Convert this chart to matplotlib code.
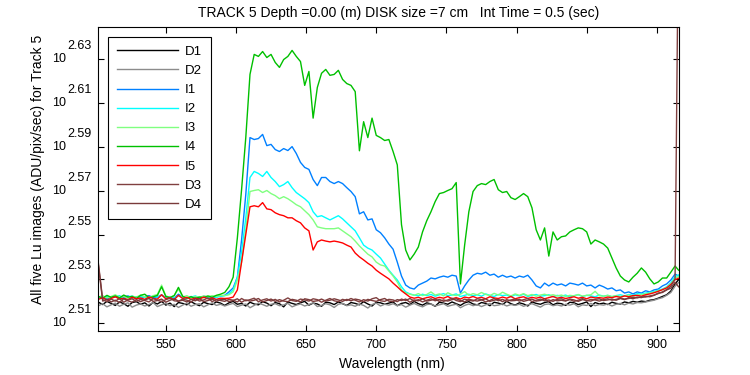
import numpy as np
import matplotlib
matplotlib.use("Agg")
import matplotlib.pyplot as plt
from matplotlib.ticker import NullLocator, FixedLocator, NullFormatter
from matplotlib.transforms import offset_copy

plt.rcParams['font.family'] = ['Liberation Sans', 'DejaVu Sans']

# wavelength grid (nm), 3 nm steps plus the last detector pixel
wl = np.append(np.arange(502, 914, 3), 915.5)

D1 = [330.6, 329.8, 330.9, 330.2, 329.5, 330.7, 330.1, 329.2, 330.5, 330.8,
      329.9, 330.4, 329.3, 330.6, 330.0, 330.9, 329.6, 330.3, 329.1, 330.5,
      330.2, 329.7, 330.8, 330.0, 329.4, 330.6, 330.1, 329.8, 330.7, 330.3,
      329.5, 330.4, 330.9, 329.9, 330.2, 329.3, 330.6, 330.0, 329.7, 330.8,
      330.3, 329.4, 330.5, 330.1, 329.0, 330.7, 330.2, 329.8, 330.4, 330.9,
      329.6, 330.3, 330.0, 329.2, 330.6, 330.4, 329.8, 330.7, 330.1, 329.5,
      330.5, 330.2, 329.7, 330.8, 330.0, 329.3, 330.6, 330.4, 329.9, 330.3,
      330.7, 329.4, 330.2, 330.5, 329.8, 330.9, 330.1, 329.6, 330.4, 330.0,
      329.2, 330.6, 330.3, 329.9, 330.7, 330.1, 329.5, 330.4, 330.8, 330.0,
      329.7, 330.5, 330.2, 329.4, 330.6, 330.3, 329.8, 330.9, 330.1, 329.6,
      330.4, 330.0, 329.3, 330.7, 330.2, 329.9, 330.5, 330.8, 329.7, 330.3,
      330.1, 329.5, 330.6, 330.4, 329.8, 330.2, 330.7, 329.1, 330.5, 330.0,
      330.3, 329.8, 330.6, 330.2, 330.0, 330.7, 330.4, 330.9, 330.6, 331.0,
      330.8, 331.3, 331.5, 332.0, 332.6, 333.2, 334.5, 337.0, 338.5]

D2 = [329.4, 330.1, 329.0, 329.7, 330.3, 329.2, 329.9, 330.4, 328.9, 329.6,
      330.0, 329.3, 329.8, 330.5, 329.1, 329.7, 330.2, 329.4, 329.9, 328.8,
      329.6, 330.3, 329.2, 329.8, 330.1, 329.0, 329.7, 330.4, 329.5, 329.9,
      329.3, 329.8, 330.2, 329.1, 329.6, 330.0, 328.7, 329.5, 330.3, 329.8,
      329.2, 329.9, 330.1, 329.4, 329.7, 330.2, 329.0, 329.6, 330.0, 329.3,
      329.8, 330.4, 329.1, 329.5, 330.1, 329.7, 328.8, 329.9, 330.2, 329.4,
      329.7, 329.2, 330.0, 329.5, 328.6, 329.8, 330.3, 329.3, 329.9, 329.6,
      330.1, 329.4, 329.8, 328.9, 329.6, 330.2, 329.5, 329.0, 329.8, 330.0,
      329.3, 329.7, 330.1, 329.2, 329.6, 329.9, 328.7, 329.5, 330.0, 329.4,
      329.8, 329.1, 329.7, 330.2, 329.4, 329.6, 330.0, 329.3, 329.8, 329.5,
      329.9, 329.2, 329.7, 330.1, 329.5, 328.9, 329.8, 330.0, 329.4, 329.7,
      329.3, 329.9, 329.6, 330.1, 329.0, 329.7, 329.5, 330.2, 329.4, 329.8,
      329.6, 330.0, 329.3, 329.9, 330.2, 329.7, 330.3, 330.0, 330.5, 330.4,
      330.7, 331.0, 331.3, 331.8, 332.2, 333.0, 334.0, 336.2, 337.5]

I1 = [332.0, 332.5, 331.8, 332.3, 332.6, 331.9, 332.4, 332.8, 332.1, 332.5,
      331.8, 332.6, 332.9, 332.2, 332.4, 333.2, 332.0, 332.5, 332.1, 333.4,
      332.3, 331.9, 332.6, 332.2, 332.0, 332.7, 332.4, 331.9, 332.5, 332.8,
      333.0, 334.2, 335.6, 339.4, 352.9, 370.1, 392.9, 392.1, 392.5, 394.2,
      389.6, 390.1, 388.0, 387.2, 388.4, 387.6, 389.2, 386.4, 382.8, 380.8,
      380.0, 376.0, 373.6, 376.8, 376.8, 375.2, 374.4, 375.2, 374.4, 372.8,
      371.3, 369.3, 362.7, 363.5, 360.4, 360.8, 356.7, 355.6, 353.7, 351.4,
      349.5, 344.8, 339.8, 336.6, 335.6, 335.2, 336.6, 337.3, 338.0, 339.1,
      338.8, 339.4, 339.8, 339.4, 340.1, 339.8, 333.8, 336.3, 338.4, 340.1,
      340.8, 340.5, 341.2, 340.1, 340.5, 339.4, 340.1, 339.4, 339.8, 339.1,
      339.8, 339.4, 340.1, 338.4, 336.3, 335.6, 337.3, 336.3, 337.3, 336.6,
      337.0, 336.3, 337.3, 337.0, 336.6, 337.3, 336.3, 336.6, 335.6, 336.6,
      336.0, 335.2, 335.6, 334.6, 334.9, 333.8, 334.2, 333.5, 334.2, 333.8,
      334.6, 334.2, 334.9, 335.2, 336.3, 337.0, 338.4, 340.5, 339.8]

I2 = [332.3, 331.9, 332.7, 332.2, 332.5, 332.9, 332.0, 332.4, 332.8, 332.1,
      332.6, 332.3, 331.9, 332.7, 332.4, 333.0, 332.2, 332.6, 332.0, 332.9,
      332.5, 332.1, 332.4, 332.8, 332.2, 332.5, 332.0, 332.6, 332.3, 332.7,
      332.9, 333.5, 334.9, 339.4, 348.5, 361.2, 376.8, 379.2, 378.4, 377.2,
      379.2, 376.8, 375.2, 373.2, 374.0, 375.2, 372.8, 370.9, 369.7, 368.5,
      367.0, 363.5, 361.6, 362.0, 361.2, 360.4, 361.2, 362.0, 360.8, 359.3,
      357.8, 356.3, 353.7, 351.0, 349.9, 349.2, 347.7, 346.3, 344.1, 341.9,
      340.1, 338.4, 336.0, 334.2, 333.5, 333.1, 332.8, 333.4, 332.9, 333.3,
      332.7, 333.2, 333.6, 332.9, 333.1, 333.5, 332.6, 333.0, 333.4, 332.8,
      333.2, 332.7, 333.5, 333.0, 332.6, 333.3, 332.9, 333.1, 332.5, 333.2,
      332.8, 333.4, 332.6, 333.0, 333.3, 332.7, 332.9, 333.2, 332.5, 333.0,
      332.7, 333.1, 332.4, 332.9, 333.2, 332.6, 333.0, 332.8, 332.5, 333.1,
      332.7, 333.0, 332.5, 332.9, 333.2, 332.8, 333.3, 333.0, 333.6, 333.4,
      333.8, 334.0, 334.3, 334.8, 335.2, 336.0, 337.4, 339.6, 340.2]

I3 = [332.4, 332.9, 332.1, 332.6, 333.2, 332.3, 332.8, 332.0, 332.7, 332.4,
      333.1, 332.5, 332.2, 332.9, 333.3, 336.6, 332.8, 332.3, 333.0, 335.2,
      332.4, 332.9, 332.1, 332.6, 332.3, 332.8, 332.5, 332.9, 332.6, 333.0,
      332.9, 333.2, 334.2, 338.4, 344.8, 356.7, 371.3, 371.7, 372.0, 370.9,
      371.7, 370.5, 369.7, 368.5, 369.3, 368.5, 367.4, 366.2, 365.4, 363.9,
      362.4, 360.4, 357.8, 357.4, 357.1, 357.1, 357.1, 357.4, 356.3, 355.2,
      354.1, 352.5, 350.7, 349.2, 347.7, 346.7, 344.8, 343.8, 343.4, 341.6,
      339.8, 337.7, 334.9, 333.8, 333.4, 333.0, 333.6, 332.9, 333.3, 334.2,
      333.1, 333.5, 332.8, 333.9, 333.2, 332.9, 333.4, 334.3, 333.0, 333.6,
      333.2, 334.0, 333.3, 332.9, 333.7, 333.1, 334.1, 333.4, 332.8, 333.5,
      333.0, 333.6, 332.9, 333.3, 332.7, 333.1, 333.4, 332.9, 333.2, 332.8,
      333.1, 332.6, 333.0, 332.8, 333.3, 332.7, 333.0, 333.2, 334.4, 332.9,
      332.7, 333.0, 332.6, 332.9, 332.5, 332.8, 333.1, 332.7, 333.0, 333.3,
      333.5, 333.8, 334.1, 334.6, 335.0, 335.8, 337.0, 339.0, 339.6]

I4 = [332.6, 332.0, 333.0, 332.3, 332.8, 332.1, 333.1, 332.4, 332.6, 331.9,
      333.0, 333.4, 332.2, 332.5, 333.0, 336.0, 332.6, 332.2, 332.9, 335.8,
      332.7, 332.0, 332.5, 331.9, 332.4, 332.2, 332.8, 332.3, 333.0, 333.4,
      334.0, 336.0, 339.4, 353.7, 372.0, 392.9, 419.8, 428.7, 427.8, 430.0,
      427.3, 428.7, 425.1, 422.9, 426.4, 427.8, 430.5, 427.8, 425.5, 415.0,
      421.1, 401.0, 414.1, 420.3, 422.0, 419.4, 419.8, 421.6, 417.6, 415.8,
      415.0, 412.3, 387.5, 399.5, 392.9, 401.0, 393.8, 392.9, 391.7, 392.1,
      387.2, 381.8, 358.6, 349.2, 345.6, 347.7, 350.3, 355.9, 360.1, 363.5,
      367.4, 370.5, 370.9, 371.7, 372.4, 374.8, 337.0, 351.0, 363.5, 371.3,
      373.6, 374.4, 374.0, 375.2, 376.0, 372.0, 370.9, 371.3, 368.9, 368.2,
      369.3, 370.5, 369.3, 365.0, 356.7, 352.9, 357.4, 347.0, 355.9, 352.9,
      354.1, 354.4, 355.9, 356.7, 357.4, 357.1, 355.9, 351.4, 352.9, 352.2,
      351.4, 349.9, 346.3, 342.7, 339.8, 338.4, 337.7, 339.4, 340.8, 342.7,
      341.2, 338.8, 337.0, 337.7, 339.1, 339.1, 341.2, 343.4, 341.9]

I5 = [331.6, 332.2, 331.4, 331.9, 332.5, 331.7, 332.0, 331.5, 332.3, 331.8,
      332.1, 331.6, 332.4, 331.9, 331.7, 333.2, 331.8, 332.2, 331.5, 333.0,
      331.9, 332.3, 331.6, 332.0, 331.7, 332.4, 331.8, 332.1, 331.6, 332.0,
      331.9, 332.0, 332.4, 334.9, 344.8, 355.2, 365.4, 365.8, 365.4, 367.0,
      364.6, 364.3, 363.1, 362.4, 362.0, 361.2, 361.2, 360.1, 359.3, 357.4,
      356.3, 349.2, 352.2, 352.9, 352.5, 352.2, 352.5, 352.2, 351.8, 351.0,
      350.3, 348.1, 346.7, 345.6, 344.4, 343.4, 341.9, 340.8, 339.8, 338.8,
      337.3, 336.0, 334.6, 333.5, 332.4, 332.0, 332.3, 331.8, 332.2, 332.5,
      331.9, 332.3, 332.0, 332.6, 331.8, 332.2, 331.7, 332.4, 332.1, 332.6,
      332.0, 332.3, 331.8, 332.5, 332.1, 331.9, 332.4, 332.0, 332.6, 331.8,
      332.2, 332.5, 331.9, 332.3, 332.0, 332.4, 331.8, 332.2, 332.6, 332.0,
      332.3, 331.9, 332.2, 332.5, 332.0, 332.3, 331.8, 332.4, 332.1, 332.2,
      332.0, 332.4, 332.2, 332.6, 332.3, 332.8, 332.5, 332.9, 333.0, 332.7,
      333.2, 333.5, 333.9, 334.4, 335.0, 335.6, 336.8, 338.5, 339.0]

D3 = [344.1, 331.5, 330.8, 331.7, 331.0, 331.9, 330.6, 331.4, 331.8, 330.9,
      331.6, 331.2, 330.7, 331.9, 331.3, 330.8, 331.5, 332.0, 331.1, 330.9,
      331.7, 331.3, 330.6, 331.8, 331.0, 331.4, 332.1, 330.8, 331.5, 331.2,
      330.9, 331.6, 331.3, 330.7, 331.9, 331.1, 331.5, 332.0, 330.8, 331.4,
      331.8, 331.0, 331.6, 330.7, 331.3, 332.1, 331.2, 330.9, 331.7, 331.4,
      331.0, 331.8, 331.5, 330.6, 331.3, 331.9, 331.1, 330.8, 331.6, 331.2,
      331.9, 331.3, 330.7, 331.5, 331.0, 331.8, 332.2, 331.1, 330.9, 331.6,
      331.4, 330.8, 331.7, 331.2, 331.9, 331.0, 331.5, 330.7, 331.3, 331.8,
      331.1, 331.6, 330.9, 331.4, 332.0, 331.2, 330.8, 331.7, 331.3, 331.0,
      331.8, 331.5, 330.7, 331.2, 331.9, 331.1, 331.6, 330.9, 331.4, 331.7,
      331.0, 331.5, 331.9, 330.8, 331.3, 331.7, 331.1, 331.4, 330.9, 331.6,
      331.8, 331.2, 331.5, 330.9, 331.3, 331.9, 331.1, 331.6, 331.4, 331.0,
      331.5, 331.8, 331.3, 331.6, 332.0, 331.7, 331.9, 332.3, 332.1, 332.5,
      332.4, 332.8, 333.1, 333.6, 334.2, 335.0, 336.2, 338.8, 500.0]

D4 = [343.5, 331.0, 331.6, 330.7, 331.3, 330.5, 331.8, 331.1, 330.6, 331.5,
      330.8, 331.4, 331.9, 330.9, 331.2, 331.7, 330.6, 331.3, 331.8, 331.0,
      331.3, 330.7, 331.6, 331.1, 331.9, 330.8, 331.2, 331.7, 330.9, 331.5,
      331.6, 330.8, 331.2, 331.8, 330.6, 331.4, 331.0, 331.3, 331.9, 330.7,
      331.2, 331.7, 330.9, 331.5, 331.0, 330.8, 331.6, 331.3, 330.7, 331.8,
      331.5, 330.9, 331.1, 331.7, 331.0, 331.3, 331.8, 331.4, 330.9, 331.6,
      331.1, 331.7, 331.4, 330.8, 331.6, 331.2, 330.9, 331.5, 331.9, 331.0,
      330.8, 331.5, 331.2, 331.7, 330.6, 331.4, 331.1, 331.8, 331.0, 331.3,
      331.7, 330.9, 331.4, 331.0, 331.5, 331.8, 331.2, 330.7, 331.6, 331.3,
      331.0, 331.4, 331.8, 330.9, 331.3, 331.6, 330.8, 331.5, 331.1, 331.2,
      331.6, 330.9, 331.3, 331.7, 331.0, 331.2, 331.8, 330.8, 331.5, 331.1,
      331.3, 331.0, 331.7, 331.4, 330.9, 331.5, 331.2, 331.0, 331.6, 331.8,
      331.2, 331.4, 331.7, 331.3, 331.9, 331.5, 332.2, 331.8, 332.4, 332.2,
      332.7, 332.5, 333.0, 333.8, 334.0, 334.9, 335.5, 337.6, 336.0]

names = ['D1', 'D2', 'I1', 'I2', 'I3', 'I4', 'I5', 'D3', 'D4']
series = [D1, D2, I1, I2, I3, I4, I5, D3, D4]
colors = ['#000000', '#8c8c8c', '#0080ff', '#00ffff', '#80ff80',
          '#00c000', '#ff0000', '#804040', '#7a3a3a']

exps = [2.51, 2.53, 2.55, 2.57, 2.59, 2.61, 2.63]
xticks = [550, 600, 650, 700, 750, 800, 850, 900]

fig = plt.figure(figsize=(7.5, 3.75), dpi=100)
ax = fig.add_axes([0.1313, 0.1173, 0.7744, 0.8099])

for name, vals, c in zip(names, series, colors):
    ax.plot(wl, vals, color=c, lw=1.0, label=name)

ax.set_yscale('log')
ax.set_xlim(502, 916)
ax.set_ylim(10 ** 2.5062, 10 ** 2.6445)
ax.set_xticks(xticks)
ax.set_xticklabels([str(t) for t in xticks], fontsize=9)
ax.yaxis.set_major_locator(FixedLocator([10 ** e for e in exps]))
ax.yaxis.set_major_formatter(NullFormatter())
ax.yaxis.set_minor_locator(NullLocator())
ax.yaxis.set_minor_formatter(NullFormatter())
ax.tick_params(direction='in', top=True, right=True, length=4.5, width=0.8, pad=6)
for sp in ax.spines.values():
    sp.set_linewidth(0.8)

# MATLAB-style "10" with raised exponent of the same size
ytr = ax.get_yaxis_transform()
base_tr = offset_copy(ytr, fig=fig, x=-32.5, y=0, units='dots')
exp_tr = offset_copy(ytr, fig=fig, x=-31.5, y=13, units='dots')
for e in exps:
    ax.text(0, 10 ** e, '10', transform=base_tr, ha='right', va='center', fontsize=9)
    ax.text(0, 10 ** e, f'{e:.2f}', transform=exp_tr, ha='left', va='center', fontsize=9)

fig.text(0.5316, 0.966, 'TRACK 5 Depth =0.00 (m) DISK size =7 cm   Int Time = 0.5 (sec)',
         ha='center', va='center', fontsize=10)
fig.text(0.5227, 0.0293, 'Wavelength (nm)', ha='center', va='center', fontsize=10)
fig.text(0.0507, 0.548, 'All five Lu images (ADU/pix/sec) for Track 5',
         ha='center', va='center', rotation=90, fontsize=10)

leg = ax.legend(loc='upper left', fontsize=9.5, handlelength=4.6, handletextpad=0.55,
                labelspacing=0.52, borderpad=0.65, borderaxespad=0.75,
                fancybox=False, framealpha=1, edgecolor='black')
leg.get_frame().set_linewidth(0.8)

fig.savefig('out.png', dpi=100)
